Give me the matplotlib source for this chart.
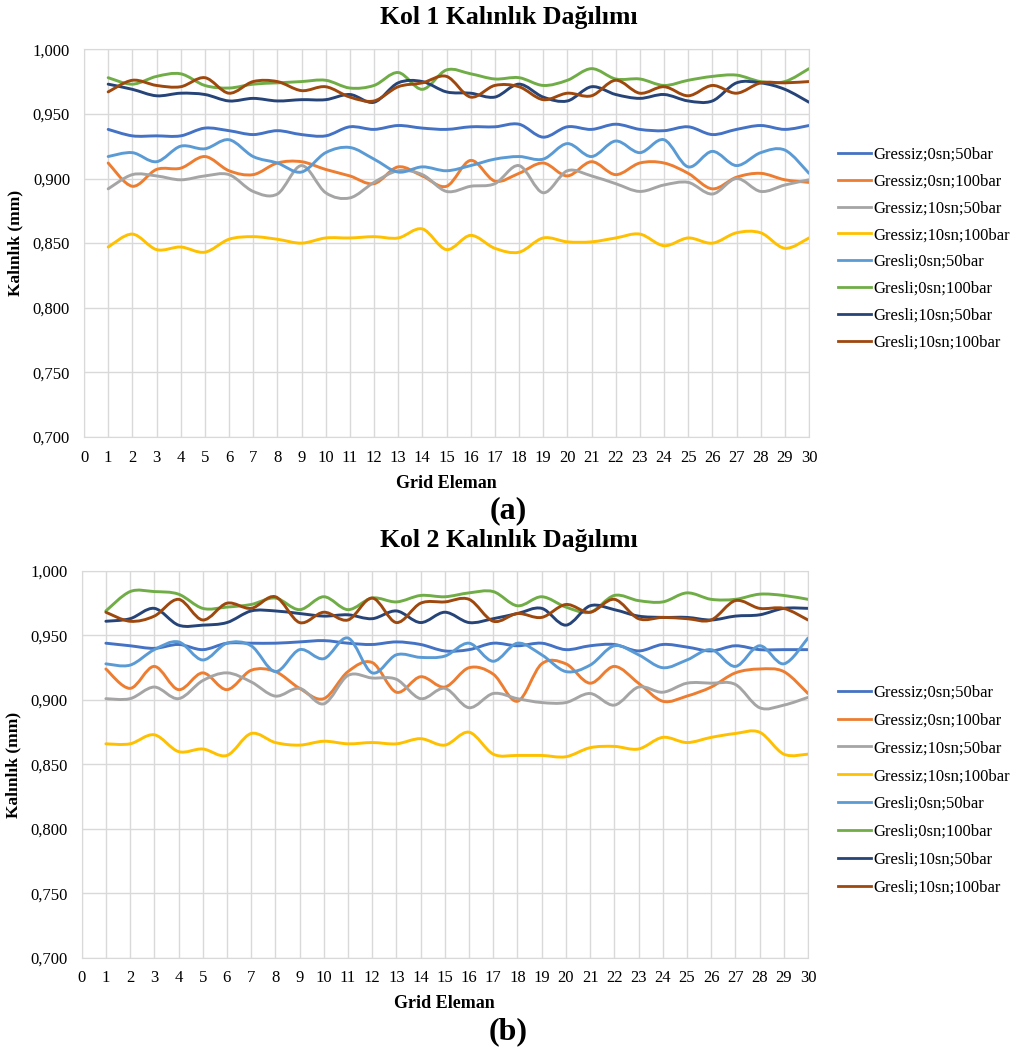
import numpy as np
from matplotlib import pyplot as plt
from matplotlib.path import Path
from matplotlib.patches import PathPatch
from matplotlib.lines import Line2D
from matplotlib.ticker import FuncFormatter, MultipleLocator

# Data:

grid_eleman = np.arange(1, 31)

labels = ['Gressiz;0sn;50bar', 'Gressiz;0sn;100bar', 'Gressiz;10sn;50bar', 'Gressiz;10sn;100bar',
          'Gresli;0sn;50bar', 'Gresli;0sn;100bar', 'Gresli;10sn;50bar', 'Gresli;10sn;100bar']
colors = ['#4472C4', '#ED7D31', '#A5A5A5', '#FFC000', '#5B9BD5', '#70AD47', '#264478', '#9E480E']

# Kol 1
kol1_gressiz_0_50 = [0.938, 0.933, 0.933, 0.933, 0.939, 0.937, 0.934, 0.937, 0.934, 0.933, 0.940, 0.938, 0.941,
                     0.939, 0.938, 0.940, 0.940, 0.942, 0.932, 0.940, 0.938, 0.942, 0.938, 0.937, 0.940, 0.934,
                     0.938, 0.941, 0.938, 0.941]
kol1_gressiz_0_100 = [0.912, 0.894, 0.907, 0.908, 0.917, 0.906, 0.903, 0.912, 0.913, 0.907, 0.902, 0.896, 0.909,
                      0.902, 0.894, 0.914, 0.898, 0.904, 0.912, 0.902, 0.913, 0.903, 0.912, 0.912, 0.904, 0.892,
                      0.901, 0.904, 0.899, 0.897]
kol1_gressiz_10_50 = [0.892, 0.903, 0.902, 0.899, 0.902, 0.903, 0.890, 0.888, 0.910, 0.889, 0.885, 0.897, 0.906,
                      0.903, 0.890, 0.894, 0.896, 0.910, 0.889, 0.906, 0.902, 0.896, 0.890, 0.895, 0.897, 0.888,
                      0.900, 0.890, 0.895, 0.899]
kol1_gressiz_10_100 = [0.847, 0.857, 0.845, 0.847, 0.843, 0.853, 0.855, 0.853, 0.850, 0.854, 0.854, 0.855, 0.854,
                       0.861, 0.845, 0.856, 0.846, 0.843, 0.854, 0.851, 0.851, 0.854, 0.857, 0.848, 0.854, 0.850,
                       0.858, 0.858, 0.846, 0.854]
kol1_gresli_0_50 = [0.917, 0.920, 0.913, 0.925, 0.923, 0.930, 0.917, 0.912, 0.905, 0.920, 0.924, 0.915, 0.905,
                    0.909, 0.906, 0.910, 0.915, 0.917, 0.915, 0.927, 0.917, 0.929, 0.920, 0.930, 0.909, 0.921,
                    0.910, 0.920, 0.922, 0.904]
kol1_gresli_0_100 = [0.978, 0.973, 0.979, 0.981, 0.972, 0.970, 0.973, 0.974, 0.975, 0.976, 0.970, 0.972, 0.982,
                     0.969, 0.984, 0.981, 0.977, 0.978, 0.972, 0.976, 0.985, 0.977, 0.977, 0.972, 0.976, 0.979,
                     0.980, 0.975, 0.975, 0.985]
kol1_gresli_10_50 = [0.973, 0.969, 0.964, 0.966, 0.965, 0.960, 0.962, 0.960, 0.961, 0.961, 0.965, 0.959, 0.974,
                     0.975, 0.967, 0.966, 0.963, 0.973, 0.963, 0.960, 0.971, 0.965, 0.962, 0.965, 0.960, 0.960,
                     0.974, 0.974, 0.969, 0.959]
kol1_gresli_10_100 = [0.967, 0.976, 0.972, 0.971, 0.978, 0.966, 0.975, 0.975, 0.968, 0.971, 0.963, 0.960, 0.971,
                      0.974, 0.979, 0.963, 0.972, 0.971, 0.961, 0.966, 0.964, 0.976, 0.966, 0.971, 0.964, 0.972,
                      0.966, 0.974, 0.974, 0.975]

# Kol 2
kol2_gressiz_0_50 = [0.944, 0.942, 0.940, 0.943, 0.939, 0.944, 0.944, 0.944, 0.945, 0.946, 0.944, 0.943, 0.945,
                     0.943, 0.938, 0.939, 0.944, 0.942, 0.944, 0.939, 0.942, 0.943, 0.938, 0.943, 0.941, 0.938,
                     0.942, 0.939, 0.939, 0.939]
kol2_gressiz_0_100 = [0.924, 0.909, 0.926, 0.908, 0.921, 0.908, 0.923, 0.922, 0.909, 0.901, 0.922, 0.929, 0.906,
                      0.918, 0.910, 0.925, 0.920, 0.899, 0.928, 0.928, 0.913, 0.926, 0.913, 0.899, 0.903, 0.910,
                      0.921, 0.924, 0.922, 0.905]
kol2_gressiz_10_50 = [0.901, 0.901, 0.910, 0.901, 0.915, 0.921, 0.914, 0.903, 0.909, 0.897, 0.919, 0.917, 0.916,
                      0.901, 0.909, 0.894, 0.905, 0.901, 0.898, 0.898, 0.905, 0.896, 0.910, 0.906, 0.913, 0.913,
                      0.912, 0.894, 0.896, 0.902]
kol2_gressiz_10_100 = [0.866, 0.866, 0.873, 0.860, 0.862, 0.857, 0.874, 0.867, 0.865, 0.868, 0.866, 0.867, 0.866,
                       0.870, 0.865, 0.875, 0.858, 0.857, 0.857, 0.856, 0.863, 0.864, 0.862, 0.871, 0.867, 0.871,
                       0.874, 0.875, 0.858, 0.858]
kol2_gresli_0_50 = [0.928, 0.927, 0.939, 0.945, 0.931, 0.944, 0.942, 0.922, 0.939, 0.932, 0.948, 0.921, 0.935,
                    0.933, 0.934, 0.944, 0.930, 0.944, 0.935, 0.922, 0.927, 0.942, 0.935, 0.925, 0.931, 0.939,
                    0.926, 0.942, 0.928, 0.948]
kol2_gresli_0_100 = [0.969, 0.984, 0.984, 0.982, 0.971, 0.972, 0.974, 0.979, 0.970, 0.980, 0.970, 0.979, 0.976,
                     0.981, 0.980, 0.983, 0.984, 0.973, 0.980, 0.972, 0.968, 0.981, 0.977, 0.976, 0.983, 0.978,
                     0.978, 0.982, 0.981, 0.978]
kol2_gresli_10_50 = [0.961, 0.963, 0.971, 0.958, 0.958, 0.960, 0.969, 0.969, 0.967, 0.965, 0.966, 0.963, 0.969,
                     0.960, 0.968, 0.960, 0.963, 0.967, 0.971, 0.958, 0.973, 0.970, 0.965, 0.964, 0.964, 0.962,
                     0.965, 0.966, 0.971, 0.971]
kol2_gresli_10_100 = [0.968, 0.961, 0.965, 0.978, 0.962, 0.975, 0.971, 0.980, 0.960, 0.968, 0.962, 0.979, 0.960,
                      0.975, 0.976, 0.978, 0.961, 0.967, 0.964, 0.974, 0.968, 0.978, 0.963, 0.964, 0.963, 0.962,
                      0.977, 0.971, 0.971, 0.962]

kol1 = [kol1_gressiz_0_50, kol1_gressiz_0_100, kol1_gressiz_10_50, kol1_gressiz_10_100,
        kol1_gresli_0_50, kol1_gresli_0_100, kol1_gresli_10_50, kol1_gresli_10_100]
kol2 = [kol2_gressiz_0_50, kol2_gressiz_0_100, kol2_gressiz_10_50, kol2_gressiz_10_100,
        kol2_gresli_0_50, kol2_gresli_0_100, kol2_gresli_10_50, kol2_gresli_10_100]

plt.rcParams['font.family'] = ['Liberation Serif', 'DejaVu Serif']


# Excel-like smoothed line: cubic Bezier segments through the points (Catmull-Rom tangents)
def smoothPath(x, y):
    p = np.column_stack((x, y)).astype(float)
    ext = np.vstack((p[0], p, p[-1]))
    verts = [p[0]]
    codes = [Path.MOVETO]
    for i in range(len(p) - 1):
        p0, p1, p2, p3 = ext[i], ext[i + 1], ext[i + 2], ext[i + 3]
        verts += [p1 + (p2 - p0) / 6, p2 - (p3 - p1) / 6, p2]
        codes += [Path.CURVE4] * 3
    return Path(verts, codes)


def plotPanel(ax, series, legend_top, spacing):
    for values, col in zip(series, colors):
        ax.add_patch(PathPatch(smoothPath(grid_eleman, values), fill=False, edgecolor=col, lw=2.1,
                               capstyle='round', joinstyle='round'))
    ax.set_xlim(0, 30)
    ax.set_ylim(0.7, 1.0)
    ax.xaxis.set_major_locator(MultipleLocator(1))
    ax.yaxis.set_major_locator(MultipleLocator(0.05))
    ax.yaxis.set_major_formatter(FuncFormatter(lambda v, pos: f'{v:.3f}'.replace('.', ',')))
    ax.grid(color='#D9D9D9', lw=1)
    ax.set_axisbelow(True)
    for s in ax.spines.values():
        s.set_color('#D9D9D9')
    ax.tick_params(length=0, labelsize=12)
    ax.tick_params(axis='x', pad=9)
    ax.tick_params(axis='y', pad=10)
    handles = [Line2D([], [], color=c, lw=2) for c in colors]
    ax.legend(handles, labels, loc='upper left', bbox_to_anchor=(0.824, legend_top),
              bbox_transform=fig.transFigure, frameon=False, fontsize=12, labelspacing=spacing,
              handlelength=2.0, handletextpad=0.1, borderaxespad=0, borderpad=0)


fig = plt.figure(figsize=(10.17, 10.48), dpi=100)
ax1 = fig.add_axes([0.0826, 0.583, 0.7129, 0.3700])
ax2 = fig.add_axes([0.0803, 0.0859, 0.7142, 0.3693])

plotPanel(ax1, kol1, 0.860, 0.65)
plotPanel(ax2, kol2, 0.3467, 0.71)

fig.text(0.5, 0.983, 'Kol 1 Kalınlık Dağılımı', ha='center', va='center', fontsize=18.5, fontweight='bold')
fig.text(0.5, 0.4845, 'Kol 2 Kalınlık Dağılımı', ha='center', va='center', fontsize=18.5, fontweight='bold')
fig.text(0.439, 0.539, 'Grid Eleman', ha='center', va='center', fontsize=13, fontweight='bold')
fig.text(0.437, 0.042, 'Grid Eleman', ha='center', va='center', fontsize=13, fontweight='bold')
fig.text(0.5, 0.5125, '(a)', ha='center', va='center', fontsize=23, fontweight='bold')
fig.text(0.5, 0.016, '(b)', ha='center', va='center', fontsize=23, fontweight='bold')
fig.text(0.015, 0.768, 'Kalınlık (mm)', ha='center', va='center', rotation=90, fontsize=12.5, fontweight='bold')
fig.text(0.013, 0.270, 'Kalınlık (mm)', ha='center', va='center', rotation=90, fontsize=12.5, fontweight='bold')

plt.savefig('out.png', dpi=100)
